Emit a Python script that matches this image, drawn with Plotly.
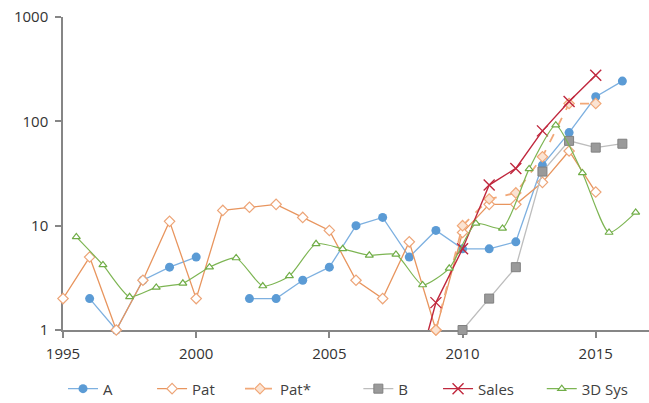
import plotly.graph_objects as go

years = list(range(1995, 2017))  # 1995..2016
years_mid = [y + 0.5 for y in range(1995, 2017)]  # 1995.5..2016.5

a_vals = [None, 2, 1, 3, 4, 5, None, 2, 2, 3, 4, 10, 12, 5, 9, 6, 6, 7, 38, 78, 172, 243]
pat_vals = [2, 5, 1, 3, 11, 2, 14, 15, 16, 12, 9, 3, 2, 7, 1, 8.6, 16, 16, 26, 52, 21, None]
patstar_vals = [None] * 14 + [1, 10, 18, 20.6, 45.7, 148, 148, None]
b_vals = [None] * 15 + [1, 2, 4, 33, 65, 56, 61]
sales_vals = [None] * 13 + [0.21, 1.83, 6, 24.5, 35.4, 81, 155, 277, None]
sys3d_vals = [7.8, 4.2, 2.08, 2.56, 2.8, 4.0, 4.9, 2.64, 3.3, 6.7, 6.0, 5.2, 5.3, 2.7,
              3.9, 10.5, 9.4, 35, 92, 32, 8.6, 13.4]

series_names = ["A", "Pat", "Pat*", "B", "Sales", "3D Sys"]

fig = go.Figure()

fig.add_trace(go.Scatter(
    x=years, y=a_vals, name=series_names[0], mode="lines+markers",
    line=dict(color="#7DB0E0", width=1.3),
    marker=dict(symbol="circle", size=9, color="#5B9BD5"),
    cliponaxis=False, legend="legend"))

fig.add_trace(go.Scatter(
    x=years, y=pat_vals, name=series_names[1], mode="lines+markers",
    line=dict(color="#E8955E", width=1.3),
    marker=dict(symbol="diamond", size=8, color="white",
                line=dict(color="#EDA578", width=1.2)),
    cliponaxis=False, legend="legend2"))

fig.add_trace(go.Scatter(
    x=years, y=patstar_vals, name=series_names[2], mode="lines+markers",
    line=dict(color="#F1A878", width=1.8, dash="dash"),
    marker=dict(symbol="diamond", size=8, color="#FBE3D2",
                line=dict(color="#F1A878", width=1.2)),
    cliponaxis=False, legend="legend3"))

fig.add_trace(go.Scatter(
    x=years, y=b_vals, name=series_names[3], mode="lines+markers",
    line=dict(color="#BDBDBD", width=1.3),
    marker=dict(symbol="square", size=9, color="#9A9A9A",
                line=dict(color="#808080", width=1)),
    cliponaxis=False, legend="legend4"))

fig.add_trace(go.Scatter(
    x=years, y=sales_vals, name=series_names[4], mode="lines+markers",
    line=dict(color="#C0283E", width=1.4),
    marker=dict(symbol="x-thin", size=11, color="#C0283E",
                line=dict(color="#C0283E", width=1.4)),
    cliponaxis=False, legend="legend5"))

fig.add_trace(go.Scatter(
    x=years_mid, y=sys3d_vals, name=series_names[5], mode="lines+markers",
    line=dict(color="#7DB553", width=1.2, shape="spline", smoothing=0.6),
    marker=dict(symbol="triangle-up", size=7, color="white",
                line=dict(color="#70AD47", width=1.2)),
    cliponaxis=False, legend="legend6"))

# legend positions (paper x) for each entry
legend_x = [0.0, 0.152, 0.302, 0.504, 0.64, 0.817]
legend_common = dict(orientation="h", yref="container", y=0.035, yanchor="middle",
                     xanchor="left", font=dict(size=15, color="#404040"),
                     bgcolor="rgba(0,0,0,0)")

layout_legends = {}
for i, lx in enumerate(legend_x):
    key = "legend" if i == 0 else f"legend{i+1}"
    layout_legends[key] = dict(x=lx, **legend_common)

fig.update_layout(
    width=649, height=403,
    margin=dict(l=63, r=0, t=17, b=73),
    paper_bgcolor="white", plot_bgcolor="white",
    font=dict(family="Open Sans", size=15, color="#404040"),
    showlegend=True,
    xaxis=dict(range=[1995, 2017], tickvals=[1995, 2000, 2005, 2010, 2015],
               ticktext=["1995", "2000", "2005", "2010", "2015"],
               showgrid=False, zeroline=False, showline=True,
               linecolor="#868686", linewidth=1.5,
               ticks="outside", ticklen=6, tickcolor="#868686", tickwidth=1.5,
               ticklabelstandoff=3,
               tickfont=dict(size=15, color="#333333"), layer="below traces"),
    yaxis=dict(type="log", range=[0, 3], tickvals=[1, 10, 100, 1000],
               ticktext=["1", "10", "100", "1000"],
               showgrid=False, zeroline=False, showline=True,
               linecolor="#868686", linewidth=1.5,
               ticks="outside", ticklen=6, tickcolor="#868686", tickwidth=1.5,
               ticklabelstandoff=4,
               tickfont=dict(size=15, color="#333333"), layer="below traces"),
    **layout_legends,
)

fig.write_html("out.html")
